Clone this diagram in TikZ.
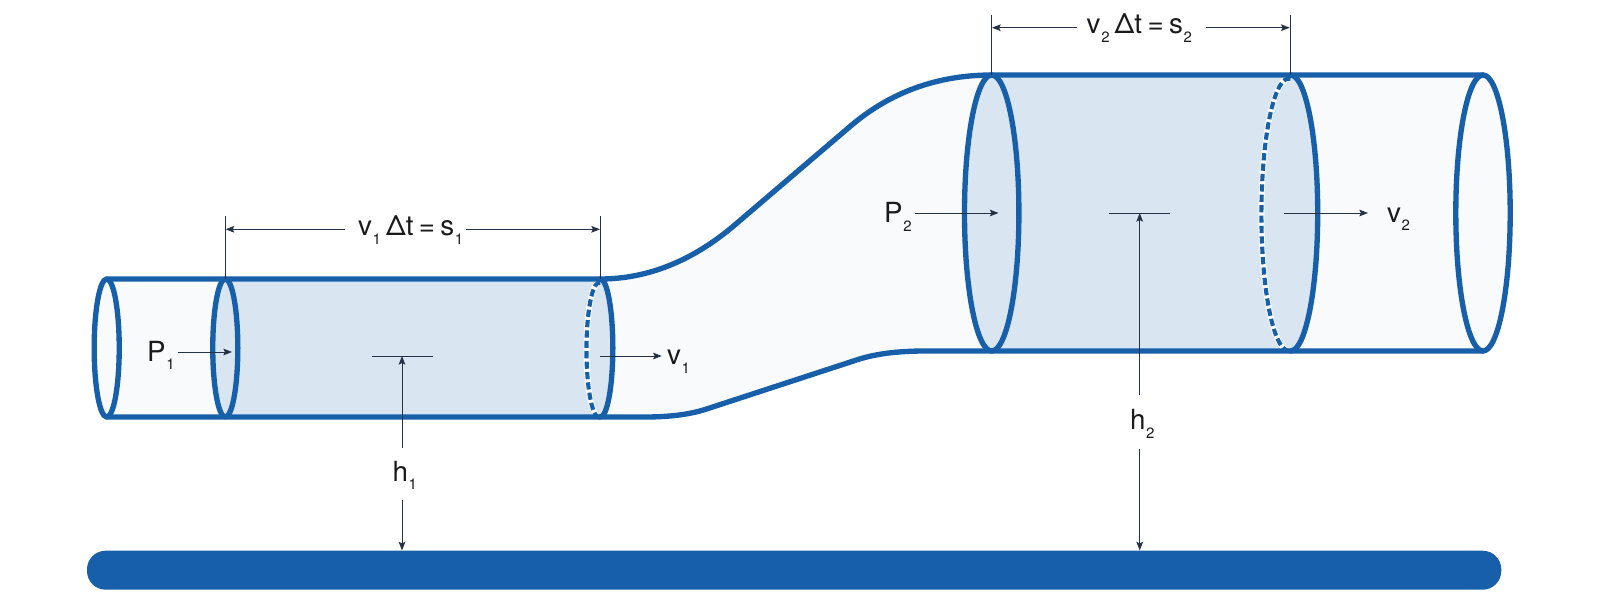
\documentclass[tikz,border=0pt]{standalone}
\usepackage{fontspec}
\setmainfont{TeX Gyre Heros}
\usetikzlibrary{arrows.meta}
\definecolor{pipeblue}{HTML}{1760A9}
\definecolor{palefill}{HTML}{F8FAFC}
\definecolor{bodyfill}{HTML}{D9E6F2}
\definecolor{arrowink}{HTML}{253245}
\definecolor{textink}{HTML}{1A1A1A}
\newcommand{\lblfont}{\fontsize{20.8pt}{24pt}\selectfont}
\newcommand{\sbs}[1]{\kern0.6pt\raisebox{-6.6pt}{\fontsize{11.2pt}{13pt}\selectfont #1}}
\newcommand{\flow}[2]{v\sbs{#1}\kern3.8pt Δt\kern4pt=\kern4pt s\sbs{#2}}
\tikzset{
  pipeline/.style={draw=pipeblue,line width=4pt,line cap=round,line join=round},
  dashline/.style={draw=pipeblue,line width=3.1pt,dash pattern=on 5.4pt off 2.4pt},
  halo/.style={draw=white,line width=4.3pt},
  thin arrow/.style={draw=arrowink,line width=0.75pt,-{Stealth[length=6.5pt,width=5pt,inset=1.2pt]}},
  thin rule/.style={draw=arrowink,line width=0.75pt},
  lbl/.style={inner sep=0pt,outer sep=0pt,anchor=base west,text=textink,font=\lblfont}
}
\begin{document}
\begin{tikzpicture}[x=0.75pt,y=-0.75pt]
\useasboundingbox (0,0) rectangle (1600,603);
% pale body
\fill[palefill] (106.7,279) -- (600,279)
  .. controls (647.7,279) and (692.7,260.9) .. (735,224.75)
  -- (850,126.5)
  .. controls (890,92.2) and (937.3,75) .. (992,75)
  -- (1483,75)
  arc[start angle=90,end angle=-90,x radius=20.4pt,y radius=103.5pt]
  -- (925,351)
  .. controls (898,351) and (875.7,353.8) .. (858,359.5)
  -- (706,409.2)
  .. controls (690,414.4) and (669.7,417) .. (645,417)
  -- (106.7,417)
  arc[start angle=-90,end angle=-270,x radius=9.4pt,y radius=51.75pt]
  -- cycle;
% shaded volumes
\fill[bodyfill] (225.3,279) -- (600.3,279)
  arc[start angle=90,end angle=-90,x radius=9.4pt,y radius=51.75pt]
  -- (225.3,417)
  arc[start angle=-90,end angle=-270,x radius=9.4pt,y radius=51.75pt] -- cycle;
\fill[bodyfill] (991.7,75) -- (1290.5,75)
  arc[start angle=90,end angle=-90,x radius=20.4pt,y radius=103.5pt]
  -- (991.7,351)
  arc[start angle=-90,end angle=-270,x radius=20.4pt,y radius=103.5pt] -- cycle;
% dashed hidden edges
\draw[halo] (600.3,283) arc[start angle=84,end angle=276,x radius=9.4pt,y radius=50.5pt];
\draw[dashline] (600.3,283) arc[start angle=84,end angle=276,x radius=9.4pt,y radius=50.5pt];
\draw[halo] (1290.5,79) arc[start angle=86,end angle=274,x radius=20.4pt,y radius=102pt];
\draw[dashline] (1290.5,79) arc[start angle=86,end angle=274,x radius=20.4pt,y radius=102pt];
% pipe outline
\draw[pipeline] (106.7,279) -- (600,279)
  .. controls (647.7,279) and (692.7,260.9) .. (735,224.75)
  -- (850,126.5)
  .. controls (890,92.2) and (937.3,75) .. (992,75)
  -- (1483,75);
\draw[pipeline] (106.7,417) -- (645,417)
  .. controls (669.7,417) and (690,414.4) .. (706,409.2)
  -- (858,359.5)
  .. controls (875.7,353.8) and (898,351) .. (925,351)
  -- (1483,351);
\coordinate (e1) at (106.7,348);
\coordinate (e2) at (225.3,348);
\coordinate (e3) at (991.7,213);
\coordinate (e5) at (1483,213);
\draw[pipeline] (e1) ellipse[x radius=9.4pt,y radius=51.75pt];
\draw[pipeline] (e2) ellipse[x radius=9.4pt,y radius=51.75pt];
\draw[pipeline] (e3) ellipse[x radius=20.4pt,y radius=103.5pt];
\draw[pipeline] (e5) ellipse[x radius=20.4pt,y radius=103.5pt];
\draw[pipeline] (600.3,279) arc[start angle=90,end angle=-90,x radius=9.4pt,y radius=51.75pt];
\draw[pipeline] (1290.5,75) arc[start angle=90,end angle=-90,x radius=20.4pt,y radius=103.5pt];
% ground bar
\fill[pipeblue,rounded corners=14pt] (87,550.7) rectangle (1501.3,589.7);
% labels
\node[lbl] (ls1) at (358,235.7) {\flow{1}{1}};
\node[lbl] (ls2) at (1086.7,33.3) {\flow{2}{2}};
\node[lbl] (lp1) at (147,361) {P\sbs{1}};
\node[lbl] (lp2) at (884,222.5) {P\sbs{2}};
\node[lbl] (lv1) at (667,364.5) {v\sbs{1}};
\node[lbl] (lv2) at (1387,222) {v\sbs{2}};
\node[lbl] (lh1) at (392.5,481) {h\sbs{1}};
\node[lbl] (lh2) at (1130,429.5) {h\sbs{2}};
% dimension lines
\coordinate (a1t) at (225.3,216); \coordinate (a1b) at (225.3,279);
\coordinate (b1t) at (600.3,216); \coordinate (b1b) at (600.3,279);
\coordinate (a2t) at (991.7,14.7); \coordinate (a2b) at (991.7,75);
\coordinate (b2t) at (1290,14.7); \coordinate (b2b) at (1290,75);
\draw[thin rule] (a1t) -- (a1b);
\draw[thin rule] (b1t) -- (b1b);
\draw[thin rule] (a2t) -- (a2b);
\draw[thin rule] (b2t) -- (b2b);
\coordinate (d1l) at (345,229.3); \coordinate (d1le) at (225.6,229.3);
\coordinate (d1r) at (466,229.3); \coordinate (d1re) at (600,229.3);
\coordinate (d2l) at (1076.7,27.7); \coordinate (d2le) at (992,27.7);
\coordinate (d2r) at (1206,27.7); \coordinate (d2re) at (1289.7,27.7);
\draw[thin arrow] (d1l) -- (d1le);
\draw[thin arrow] (d1r) -- (d1re);
\draw[thin arrow] (d2l) -- (d2le);
\draw[thin arrow] (d2r) -- (d2re);
% pressure and velocity arrows
\coordinate (p1s) at (177.7,352); \coordinate (p1e) at (232,352);
\coordinate (p2s) at (915,213); \coordinate (p2e) at (998.5,213);
\coordinate (v1s) at (600.3,356); \coordinate (v1e) at (661.7,356);
\coordinate (v2s) at (1284,213); \coordinate (v2e) at (1368,213);
\draw[thin arrow] (p1s) -- (p1e);
\draw[thin arrow] (p2s) -- (p2e);
\draw[thin arrow] (v1s) -- (v1e);
\draw[thin arrow] (v2s) -- (v2e);
% heights
\coordinate (m1l) at (372,356); \coordinate (m1r) at (433,356);
\coordinate (m2l) at (1109.3,213); \coordinate (m2r) at (1170,213);
\draw[thin rule] (m1l) -- (m1r);
\draw[thin rule] (m2l) -- (m2r);
\coordinate (h1a) at (402,448); \coordinate (h1b) at (402,356);
\coordinate (h1c) at (402,500); \coordinate (h1d) at (402,550.5);
\coordinate (h2a) at (1139.7,394.7); \coordinate (h2b) at (1139.7,213);
\coordinate (h2c) at (1139.7,449); \coordinate (h2d) at (1139.7,550.5);
\draw[thin arrow] (h1a) -- (h1b);
\draw[thin arrow] (h1c) -- (h1d);
\draw[thin arrow] (h2a) -- (h2b);
\draw[thin arrow] (h2c) -- (h2d);
\end{tikzpicture}
\end{document}
